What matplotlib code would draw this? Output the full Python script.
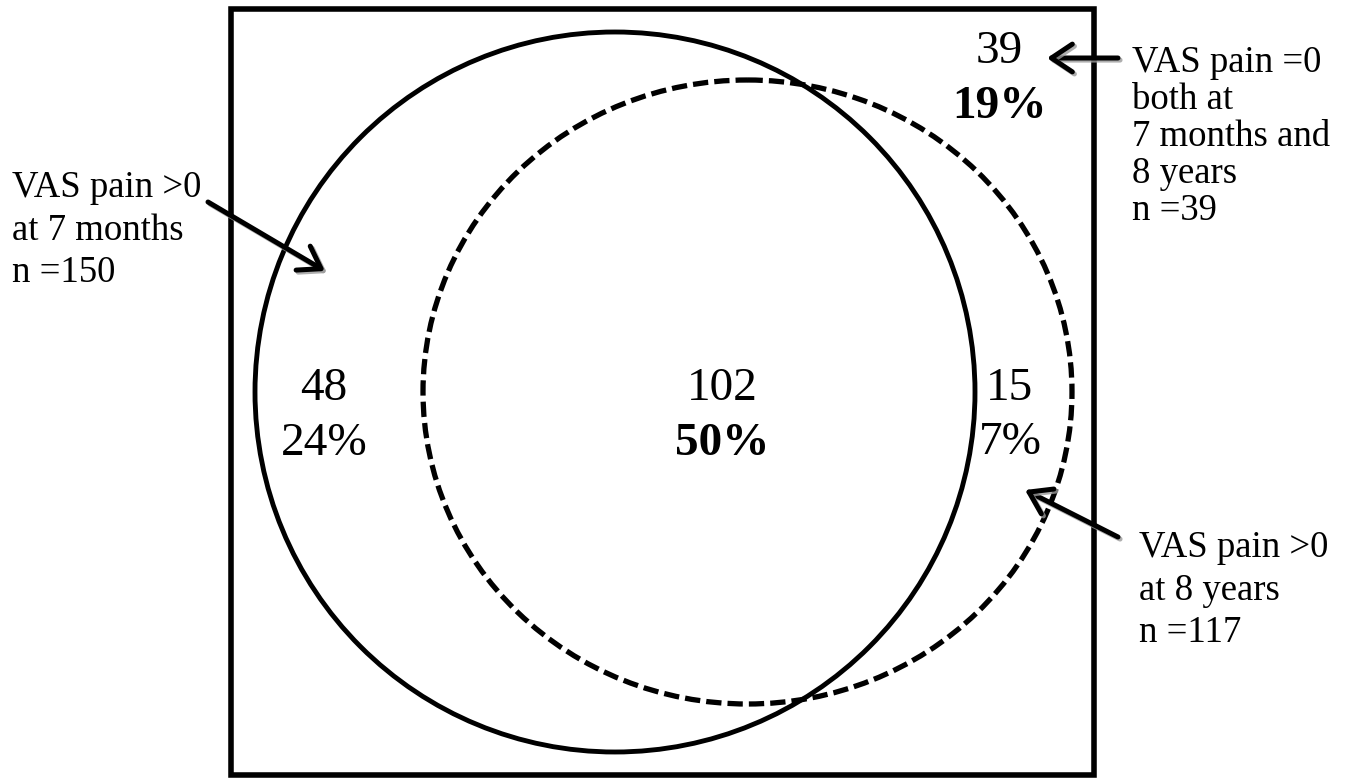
import matplotlib

matplotlib.use("Agg")
import matplotlib.pyplot as plt
import matplotlib.patheffects as pe
from matplotlib.patches import Circle, Ellipse, Rectangle

plt.rcParams["font.family"] = ["Liberation Serif", "DejaVu Serif"]

# Region values (counts and shares of the whole sample)
REGIONS = ["only_7m", "both", "only_8y", "neither"]
COUNTS = [48, 102, 15, 39]
PERCENTS = ["24%", "50%", "7%", "19%"]
PCT_BOLD = [False, True, False, True]

# Annotation texts
LABEL_7M = ["VAS pain >0", "at 7 months", "n =150"]
LABEL_8Y = ["VAS pain >0", "at 8 years", "n =117"]
LABEL_NONE = ["VAS pain =0", "both at", "7 months and", "8 years", "n =39"]

W, H = 1354, 778

# layout in pixel coordinates (y grows downward)
NUM_POS = {
    "only_7m": (324, 400, 455),
    "both": (722, 400, 455),
    "only_8y": (1010, 400, 454),
    "neither": (999, 63, 118),
}

fig = plt.figure(figsize=(W / 100, H / 100), dpi=100)
ax = fig.add_axes([0, 0, 1, 1])
ax.set_xlim(0, W)
ax.set_ylim(H, 0)
ax.axis("off")

# Outer box = whole sample
ax.add_patch(Rectangle((231, 9), 863, 766, fill=False, lw=4.0, ec="black"))

# 7 months set (solid) and 8 years set (dashed)
ax.add_patch(Circle((615, 392), 360, fill=False, lw=3.5, ec="black"))
ax.add_patch(
    Ellipse(
        (747.5, 392), 649, 624, fill=False, lw=3.8, ec="black",
        linestyle=(0, (2.9, 1.15)),
    )
)

# Counts and percentages inside the regions
for region, count, pct, bold in zip(REGIONS, COUNTS, PERCENTS, PCT_BOLD):
    x, y1, y2 = NUM_POS[region]
    ax.text(x, y1, str(count), fontsize=34, ha="center", va="baseline")
    ax.text(
        x, y2, pct, fontsize=34, ha="center", va="baseline",
        weight="bold" if bold else "normal",
    )


def label_block(lines, x, y0, step):
    for i, line in enumerate(lines):
        ax.text(x, y0 + i * step, line, fontsize=26.5, ha="left", va="baseline")


label_block(LABEL_7M, 12, 197, 42.5)
label_block(LABEL_NONE, 1132, 72, 37)
label_block(LABEL_8Y, 1139, 557, 42.5)

shadow = [
    pe.SimpleLineShadow(offset=(1.5, -1.5), shadow_color="#9a9a9a", alpha=0.8),
    pe.Normal(),
]
arrow_kw = dict(
    arrowstyle="->,head_length=0.75,head_width=0.5",
    lw=3.6,
    color="black",
    mutation_scale=20,
    shrinkA=0,
    shrinkB=0,
    path_effects=shadow,
)

# (tip, tail) pairs
ARROWS = [((325, 271), (208, 202)), ((1047, 58), (1118, 58)), ((1025, 490), (1118, 537))]
for tip, tail in ARROWS:
    ax.annotate("", xy=tip, xytext=tail, arrowprops=arrow_kw)

fig.savefig("out.png", dpi=100)
